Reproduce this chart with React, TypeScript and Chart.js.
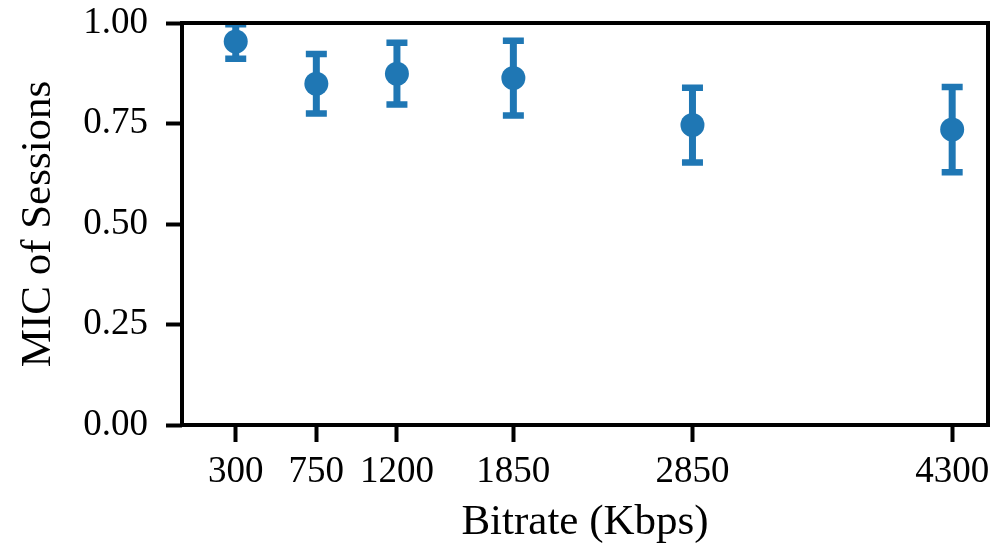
import React, { useEffect, useRef } from "react";
import { Chart, registerables } from "chart.js";

Chart.register(...registerables);

const bitrates = [300, 750, 1200, 1850, 2850, 4300];
const micMean = [0.954, 0.849, 0.874, 0.863, 0.746, 0.735];
const micErr = [0.043, 0.074, 0.077, 0.093, 0.093, 0.106];
const yTicks = [0, 0.25, 0.5, 0.75, 1.0];

const BLUE = "#1f77b4";
const FONT = "'Liberation Serif', 'Times New Roman', serif";
const PLOT_RIGHT = 988;

const errorBarPlugin = {
  id: "errorBars",
  beforeDatasetsDraw(chart: any) {
    const { ctx, scales } = chart;
    const xs = scales.x;
    const ys = scales.y;
    ctx.save();
    ctx.strokeStyle = BLUE;
    ctx.lineCap = "butt";
    bitrates.forEach((b, i) => {
      const x = xs.getPixelForValue(b);
      const yTop = ys.getPixelForValue(micMean[i] + micErr[i]);
      const yBot = ys.getPixelForValue(micMean[i] - micErr[i]);
      ctx.lineWidth = 7;
      ctx.beginPath();
      ctx.moveTo(x, yTop);
      ctx.lineTo(x, yBot);
      ctx.stroke();
      ctx.lineWidth = 6.5;
      ctx.beginPath();
      ctx.moveTo(x - 10.5, yTop);
      ctx.lineTo(x + 10.5, yTop);
      ctx.moveTo(x - 10.5, yBot);
      ctx.lineTo(x + 10.5, yBot);
      ctx.stroke();
    });
    ctx.restore();
  },
};

const framePlugin = {
  id: "frame",
  afterLayout(chart: any) {
    const ca = chart.chartArea;
    ca.right = PLOT_RIGHT;
    ca.width = ca.right - ca.left;
    const xs = chart.scales.x;
    xs.right = PLOT_RIGHT;
    xs.width = xs.right - xs.left;
    xs.configure();
  },
  afterDraw(chart: any) {
    const { ctx, chartArea } = chart;
    ctx.save();
    ctx.strokeStyle = "#000";
    ctx.lineWidth = 4;
    ctx.strokeRect(
      chartArea.left,
      chartArea.top,
      chartArea.right - chartArea.left,
      chartArea.bottom - chartArea.top
    );
    ctx.restore();
  },
};

export default function App() {
  const ref = useRef<HTMLCanvasElement | null>(null);

  useEffect(() => {
    if (!ref.current) return;
    const chart = new Chart(ref.current, {
      type: "scatter",
      data: {
        datasets: [
          {
            data: bitrates.map((b, i) => ({ x: b, y: micMean[i] })),
            backgroundColor: BLUE,
            borderColor: BLUE,
            pointRadius: 12,
            pointBorderWidth: 0,
            pointHoverRadius: 12,
          },
        ],
      },
      options: {
        animation: false,
        responsive: false,
        events: [],
        layout: { padding: { top: 23, right: 7, left: 0, bottom: 0 } },
        plugins: {
          legend: { display: false },
          tooltip: { enabled: false },
        },
        scales: {
          x: {
            type: "linear",
            min: 0,
            max: 4500,
            afterFit: (s: any) => {
              s.height = 127;
            },
            afterBuildTicks: (s: any) => {
              s.ticks = bitrates.map((v) => ({ value: v }));
            },
            grid: {
              drawOnChartArea: false,
              drawTicks: true,
              tickLength: 17,
              tickWidth: 4,
              tickColor: "#000",
            },
            border: { display: false },
            ticks: {
              color: "#000",
              font: { family: FONT, size: 37 },
              padding: 8,
              maxRotation: 0,
              autoSkip: false,
              callback: (v: any) => String(v),
            },
            title: {
              display: true,
              text: "Bitrate (Kbps)",
              color: "#000",
              font: { family: FONT, size: 43 },
              padding: { top: 0, bottom: 3 },
            },
          },
          y: {
            type: "linear",
            min: 0,
            max: 1,
            afterFit: (s: any) => {
              s.width = 182;
              s.paddingTop = 0;
              s.paddingBottom = 0;
            },
            afterBuildTicks: (s: any) => {
              s.ticks = yTicks.map((v) => ({ value: v }));
            },
            grid: {
              drawOnChartArea: false,
              drawTicks: true,
              tickLength: 16,
              tickWidth: 4,
              tickColor: "#000",
            },
            border: { display: false },
            ticks: {
              color: "#000",
              font: { family: FONT, size: 37 },
              padding: 18,
              callback: (v: any) => Number(v).toFixed(2),
            },
            title: {
              display: true,
              text: "MIC of Sessions",
              color: "#000",
              font: { family: FONT, size: 43 },
              padding: { top: 13, bottom: 0 },
            },
          },
        },
      },
      plugins: [errorBarPlugin, framePlugin],
    });
    return () => chart.destroy();
  }, []);

  return (
    <div
      style={{
        position: "fixed",
        left: 0,
        top: 0,
        width: 995,
        height: 552,
        background: "#fff",
      }}
    >
      <canvas ref={ref} width={995} height={552} style={{ display: "block" }} />
    </div>
  );
}
